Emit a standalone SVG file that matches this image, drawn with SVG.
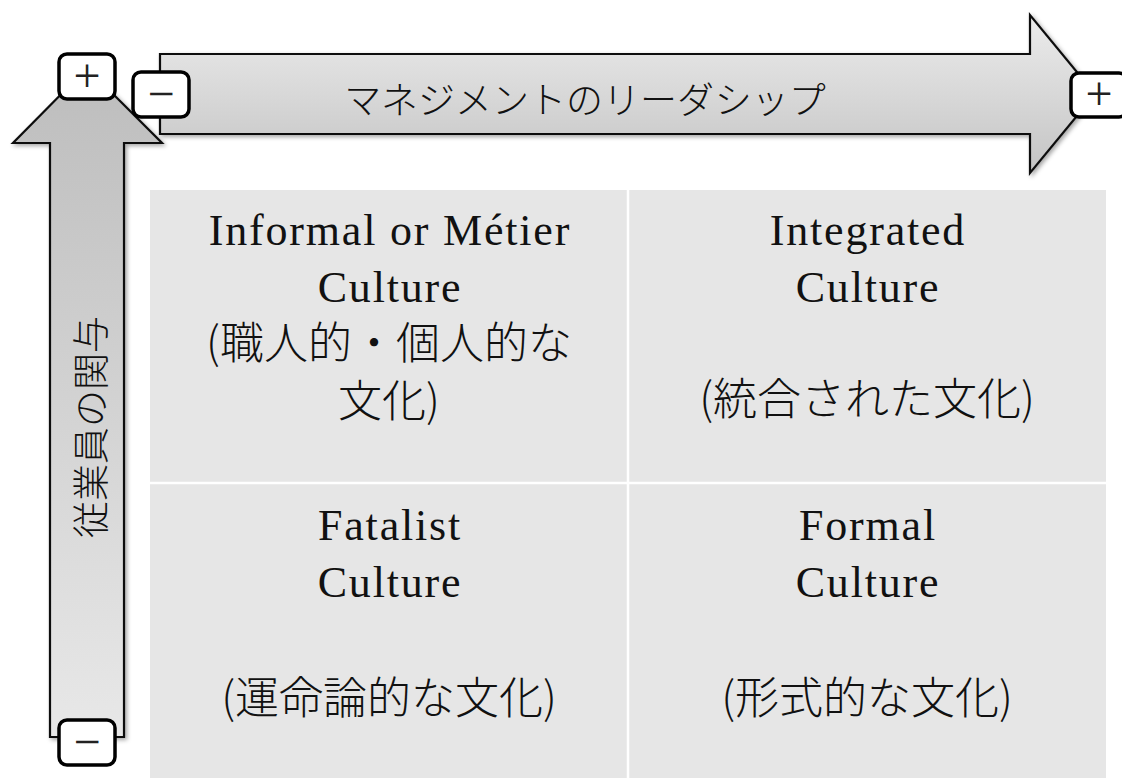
<svg xmlns="http://www.w3.org/2000/svg" width="1122" height="778" viewBox="0 0 1122 778">
  <style>
    .cell { fill: #e6e6e6; }
    .div { stroke: #ffffff; stroke-width: 2.5; }
    .lat { font-family: "Liberation Serif", "Noto Sans CJK JP", serif; font-size: 44px; letter-spacing: 1.8px; fill: #111; text-anchor: middle; }
    .jp { font-family: "Noto Sans CJK JP", sans-serif; font-size: 44px; font-weight: 300; fill: #111; text-anchor: middle; }
    .axislbl { font-family: "Noto Sans CJK JP", sans-serif; font-size: 37px; font-weight: 300; fill: #111; text-anchor: middle; }
    .arrow { stroke: #111; stroke-width: 2.2; stroke-linejoin: miter; }
    .box { fill: #ffffff; stroke: #000; stroke-width: 3.5; }
    .sign { font-family: "Liberation Serif", serif; font-size: 48px; fill: #222; text-anchor: middle; }
  </style>
  <defs>
    <linearGradient id="gH" x1="0" y1="0" x2="0" y2="1">
      <stop offset="0" stop-color="#ececec"/>
      <stop offset="1" stop-color="#c4c4c4"/>
    </linearGradient>
    <linearGradient id="gV" x1="0" y1="0" x2="0" y2="1">
      <stop offset="0" stop-color="#bdbdbd"/>
      <stop offset="1" stop-color="#e8e8e8"/>
    </linearGradient>
    <filter id="sh" x="-10%" y="-10%" width="120%" height="120%">
      <feDropShadow dx="2" dy="2" stdDeviation="2" flood-color="#000" flood-opacity="0.35"/>
    </filter>
  </defs>
  <rect width="1122" height="778" fill="#ffffff"/>

  <!-- quadrant grid -->
  <g id="grid">
    <rect class="cell" x="150" y="190" width="956" height="588"/>
    <line class="div" x1="628" y1="190" x2="628" y2="778"/>
    <line class="div" x1="150" y1="483" x2="1106" y2="483"/>
  </g>

  <g id="q-informal">
    <text class="lat" x="390" y="245">Informal or Métier</text>
    <text class="lat" x="390" y="302">Culture</text>
    <text class="jp" x="389" y="359">(職人的・個人的な</text>
    <text class="jp" x="389" y="417">文化)</text>
  </g>
  <g id="q-integrated">
    <text class="lat" x="868" y="245">Integrated</text>
    <text class="lat" x="868" y="302">Culture</text>
    <text class="jp" x="867" y="415">(統合された文化)</text>
  </g>
  <g id="q-fatalist">
    <text class="lat" x="390" y="540">Fatalist</text>
    <text class="lat" x="390" y="597">Culture</text>
    <text class="jp" x="389" y="714">(運命論的な文化)</text>
  </g>
  <g id="q-formal">
    <text class="lat" x="868" y="540">Formal</text>
    <text class="lat" x="868" y="597">Culture</text>
    <text class="jp" x="867" y="714">(形式的な文化)</text>
  </g>

  <!-- axis arrows -->
  <g id="connectors">
    <g id="axis-leadership">
      <polygon class="arrow" fill="url(#gH)" filter="url(#sh)" points="160,54 1030,54 1030,15 1095,94 1030,173 1030,134 160,134"/>
      <text class="axislbl" x="585" y="114">マネジメントのリーダシップ</text>
    </g>
    <g id="axis-involvement">
      <polygon class="arrow" fill="url(#gV)" filter="url(#sh)" points="50,737 50,143 13,143 87,68 162,143 124,143 124,737"/>
      <text class="axislbl" transform="translate(105,427) rotate(-90)" x="0" y="0" font-size="39">従業員の関与</text>
    </g>
  </g>

  <!-- plus / minus markers -->
  <g id="mark-v-plus">
    <rect class="box" x="59" y="54" width="56" height="45" rx="8"/>
    <text class="sign" x="87" y="92">+</text>
  </g>
  <g id="mark-h-minus">
    <rect class="box" x="133" y="72" width="56" height="45" rx="8"/>
    <text class="sign" x="161" y="110">−</text>
  </g>
  <g id="mark-h-plus">
    <rect class="box" x="1071" y="73" width="56" height="44" rx="8"/>
    <text class="sign" x="1099" y="110">+</text>
  </g>
  <g id="mark-v-minus">
    <rect class="box" x="59" y="720" width="56" height="45" rx="8"/>
    <text class="sign" x="87" y="758">−</text>
  </g>
</svg>
